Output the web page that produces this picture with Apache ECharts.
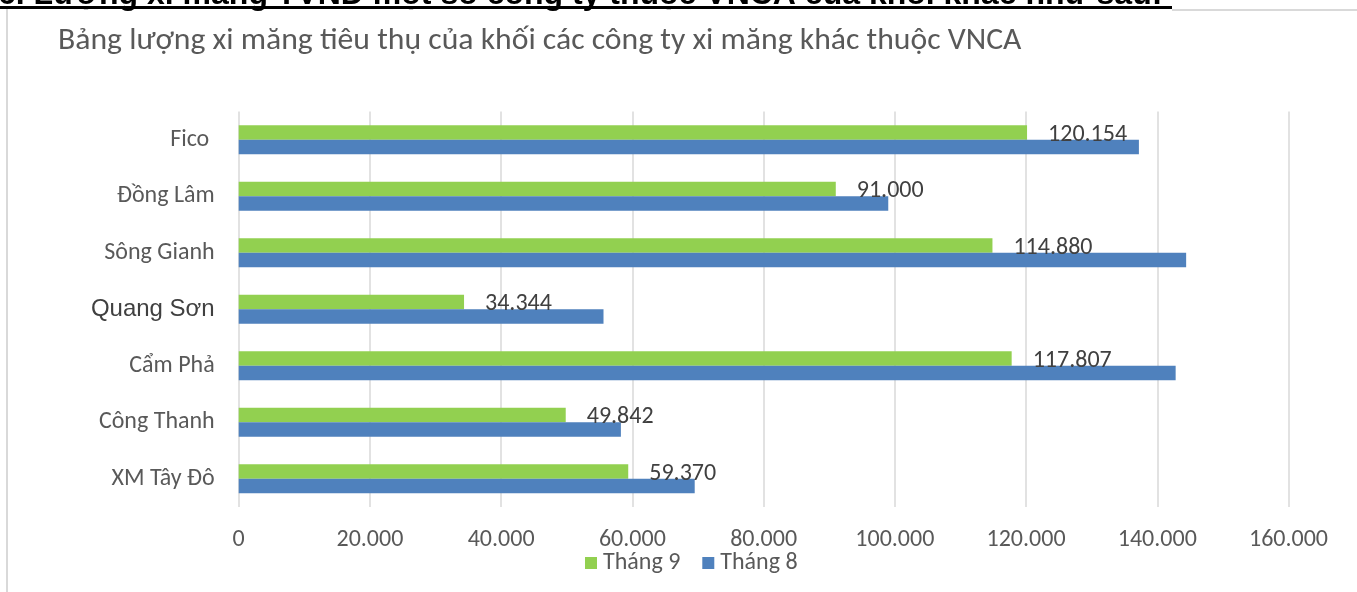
<!DOCTYPE html>
<html>
<head>
<meta charset="utf-8">
<script src="https://cdn.jsdelivr.net/npm/echarts@6/dist/echarts.min.js"></script>
<style>
  html, body { margin: 0; padding: 0; background: #fff; }
  #chart { width: 1357px; height: 592px; }
</style>
</head>
<body>
<div id="chart"></div>
<script>
// categories listed bottom -> top (as the category axis draws them)
var companies = ["XM Tây Đô", "Công Thanh", "Cẩm Phả", "Quang Sơn", "Sông Gianh", "Đồng Lâm", "Fico "];
var thang9 = [59370, 49842, 117807, 34344, 114880, 91000, 120154];
var thang8 = [69500, 58250, 142800, 55600, 144400, 99000, 137200];
var xTicks = [0, 20000, 40000, 60000, 80000, 100000, 120000, 140000, 160000];

var headerText = "6. Lượng xi măng TVND một số công ty thuộc VNCA của khối khác như sau:";
var titleText = "Bảng lượng xi măng tiêu thụ của khối các công ty xi măng khác thuộc VNCA";

var narrow = "Carlito, 'Liberation Sans Narrow', 'Open Sans', sans-serif";

function vn(v){
    // Vietnamese style thousands separator
    return String(Math.round(v)).replace(/\B(?=(\d{3})+(?!\d))/g, ".");
}

var chart = echarts.init(document.getElementById("chart"));

var option = {
    animation: false,
    title: {
        text: titleText,
        left: 53,
        top: 20,
        textStyle: { fontFamily: narrow, fontSize: 31.7, fontWeight: "normal", color: "#595959" }
    },
    graphic: [
        // cut-off document heading above the chart
        { type: "text", left: -2, top: -21, style: { text: headerText, font: "bold 32px 'Liberation Sans', Arial", fill: "#000" } },
        { type: "rect", shape: { x: 0, y: 6, width: 1172, height: 3 }, style: { fill: "#000" } },
        // chart frame
        { type: "rect", shape: { x: 1172, y: 9, width: 185, height: 2 }, style: { fill: "#d9d9d9" } },
        { type: "rect", shape: { x: 6, y: 9, width: 2, height: 583 }, style: { fill: "#d9d9d9" } }
    ],
    legend: {
        data: ["Tháng 9", "Tháng 8"],
        left: 580,
        top: 546,
        itemWidth: 12,
        itemHeight: 12,
        itemGap: 22,
        icon: "rect",
        textStyle: { fontFamily: narrow, fontSize: 24, color: "#595959", padding: [0, 0, 0, 1] }
    },
    grid: { left: 238.7, right: 68.5, top: 111.5, bottom: 85, containLabel: false },
    xAxis: {
        type: "value",
        min: xTicks[0],
        max: xTicks[xTicks.length - 1],
        interval: xTicks[1] - xTicks[0],
        axisLine: { show: false },
        axisTick: { show: false },
        splitLine: { lineStyle: { color: "#d9d9d9", width: 1.5 } },
        axisLabel: { formatter: vn, fontFamily: narrow, fontSize: 24, color: "#595959", margin: 21 }
    },
    yAxis: {
        type: "category",
        data: companies,
        axisLine: { show: false },
        axisTick: { show: false },
        axisLabel: {
            margin: 24,
            fontFamily: narrow,
            fontSize: 24,
            color: "#595959",
            formatter: function(v){ return v === "Quang Sơn" ? "{q|" + v + "}" : v; },
            rich: { q: { fontFamily: "'Liberation Sans', Arial", fontSize: 24, color: "#404040" } }
        }
    },
    series: [
        {
            name: "Tháng 9",
            type: "bar",
            data: thang9,
            barWidth: 14.5,
            barGap: "0%",
            itemStyle: { color: "#92d050" },
            label: {
                show: true,
                position: "right",
                distance: 21,
                offset: [0, 2],
                formatter: function(p){ return vn(p.value); },
                fontFamily: narrow,
                fontSize: 24,
                color: "#404040"
            }
        },
        {
            name: "Tháng 8",
            type: "bar",
            data: thang8,
            barWidth: 14.5,
            barGap: "0%",
            itemStyle: { color: "#4f81bd" }
        }
    ]
};

chart.setOption(option);
</script>
</body>
</html>
